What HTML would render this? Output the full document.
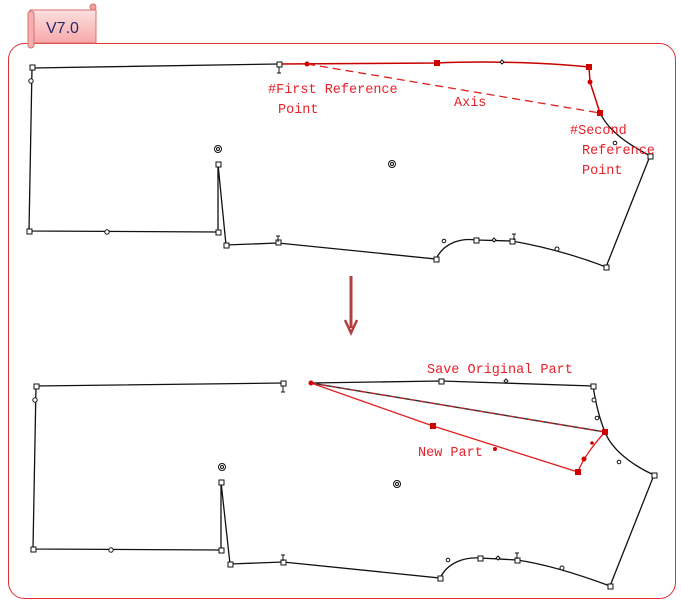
<!DOCTYPE html>
<html><head><meta charset="utf-8"><style>
body{margin:0;background:#fff;width:681px;height:607px;overflow:hidden}
text{font-family:"Liberation Mono",monospace;font-size:13.5px;fill:#e8202a}
</style></head><body>
<svg width="681" height="607" viewBox="0 0 681 607">
<defs>
<linearGradient id="tg" x1="0" y1="0" x2="0" y2="1"><stop offset="0" stop-color="#fde0e0"/><stop offset="1" stop-color="#f7a8a8"/></linearGradient>
</defs>
<rect x="8.5" y="43.5" width="667" height="555" rx="16" fill="none" stroke="#e03030" stroke-width="1"/>
<rect x="30" y="10" width="66" height="33" fill="url(#tg)" stroke="#d87070"/>
<rect x="28" y="11" width="6" height="37" rx="3" fill="#f6b0b0" stroke="#d87070"/>
<circle cx="93" cy="7" r="3" fill="#f2a0a0" stroke="#d87070"/>
<text x="46" y="33" style="font-family:'Liberation Sans',sans-serif;font-size:16px;fill:#2a2a6a">V7.0</text>

<g fill="none" stroke="#111" stroke-width="1.3">
<path d="M279,64 L32,68 L29,231 L218,232 L218,164 L226,245 L278,243 L436,259 C444,242 462,238 476,240 L512,241 C540,246 570,253 606,267 L650,156 C630,145 610,133 600,113"/>
<path d="M283,383 L36,386 L33,549 L221,550 L221,482 L230,564 L283,562 L440,578 C448,562 465,557 480,558 L517,560 C545,564 575,573 610,586 L654,475 C632,465 612,450 605,432 C600,420 596,405 593,386 L441,381 L311,383"/>
</g>
<path d="M279,64 L437,63 C480,61 540,62 589,67 L590,82 L600,113" fill="none" stroke="#c80000" stroke-width="1.5"/>
<path d="M307,64 L600,113" fill="none" stroke="#e02020" stroke-width="1.3" stroke-dasharray="8,5"/>
<path d="M311,383 L605,432" fill="none" stroke="#333" stroke-width="1.5"/>
<path d="M311,383 L605,432" fill="none" stroke="#e02020" stroke-width="1" stroke-dasharray="6,4"/>
<path d="M311,383 L433,426 L578,472 C582,460 594,444 605,432" fill="none" stroke="#e02020" stroke-width="1.3"/>

<g fill="#fff" stroke="#111" stroke-width="1">
<rect x="30" y="65" width="5" height="5"/><rect x="27" y="229" width="5" height="5"/><rect x="216" y="230" width="5" height="5"/><rect x="216" y="162" width="5" height="5"/><rect x="224" y="243" width="5" height="5"/><rect x="276" y="240" width="5" height="5"/><rect x="434" y="257" width="5" height="5"/><rect x="474" y="238" width="5" height="5"/><rect x="510" y="239" width="5" height="5"/><rect x="604" y="265" width="5" height="5"/><rect x="648" y="154" width="5" height="5"/><rect x="277" y="62" width="5" height="5"/>
<circle cx="31" cy="81" r="2.2"/><circle cx="107" cy="232" r="2.2"/><circle cx="557" cy="249" r="2"/><circle cx="444" cy="241" r="1.8"/><circle cx="615" cy="143" r="1.8"/>
<circle cx="218" cy="149" r="3.5"/><circle cx="218" cy="149" r="1.5"/><circle cx="392" cy="164" r="3.5"/><circle cx="392" cy="164" r="1.5"/>
<rect x="34" y="384" width="5" height="5"/><rect x="31" y="547" width="5" height="5"/><rect x="219" y="548" width="5" height="5"/><rect x="219" y="480" width="5" height="5"/><rect x="228" y="562" width="5" height="5"/><rect x="281" y="560" width="5" height="5"/><rect x="438" y="576" width="5" height="5"/><rect x="478" y="556" width="5" height="5"/><rect x="515" y="558" width="5" height="5"/><rect x="608" y="584" width="5" height="5"/><rect x="652" y="473" width="5" height="5"/><rect x="281" y="381" width="5" height="5"/><rect x="439" y="379" width="5" height="5"/><rect x="591" y="384" width="5" height="5"/>
<circle cx="35" cy="400" r="2.2"/><circle cx="111" cy="550" r="2.2"/><circle cx="562" cy="568" r="2"/><circle cx="448" cy="560" r="1.8"/><circle cx="594" cy="400" r="2"/><circle cx="597" cy="418" r="1.8"/><circle cx="619" cy="462" r="1.8"/>
<circle cx="222" cy="467" r="3.5"/><circle cx="222" cy="467" r="1.5"/><circle cx="397" cy="484" r="3.5"/><circle cx="397" cy="484" r="1.5"/>
<path d="M502,60 l2,2 l-2,2 l-2,-2z M494,238 l2,2 l-2,2 l-2,-2z M506,379 l2,2 l-2,2 l-2,-2z M498,556 l2,2 l-2,2 l-2,-2z"/>
</g>
<g fill="#d00000">
<circle cx="307" cy="64" r="2.5"/><rect x="434" y="60" width="6" height="6"/><rect x="586" y="64" width="6" height="6"/><circle cx="590" cy="82" r="2.5"/><rect x="597" y="110" width="6" height="6"/>
<circle cx="311" cy="383" r="2.5"/><rect x="430" y="423" width="6" height="6"/><rect x="575" y="469" width="6" height="6"/><rect x="602" y="429" width="6" height="6"/><circle cx="584" cy="459" r="2.5"/><circle cx="495" cy="449" r="2"/><circle cx="592" cy="443" r="1.8"/>
</g>
<g stroke="#111" stroke-width="1"><path d="M279,67 v6 M277,73 h4 M278,236 v6 M276,236 h4 M283,555 v6 M281,555 h4 M514,234 v6 M512,234 h4 M283,386 v6 M281,392 h4 M517,553 v6 M515,553 h4"/></g>

<text x="268" y="93">#First Reference</text>
<text x="278" y="113">Point</text>
<text x="454" y="106">Axis</text>
<text x="570" y="134">#Second</text>
<text x="582" y="154">Reference</text>
<text x="582" y="174">Point</text>
<text x="427" y="373">Save Original Part</text>
<text x="418" y="456">New Part</text>

<path d="M351,276 V328" stroke="#b04040" stroke-width="3"/>
<path d="M345,320 L351,333 L357,320" fill="none" stroke="#b04040" stroke-width="2.5"/>
</svg>
</body></html>
